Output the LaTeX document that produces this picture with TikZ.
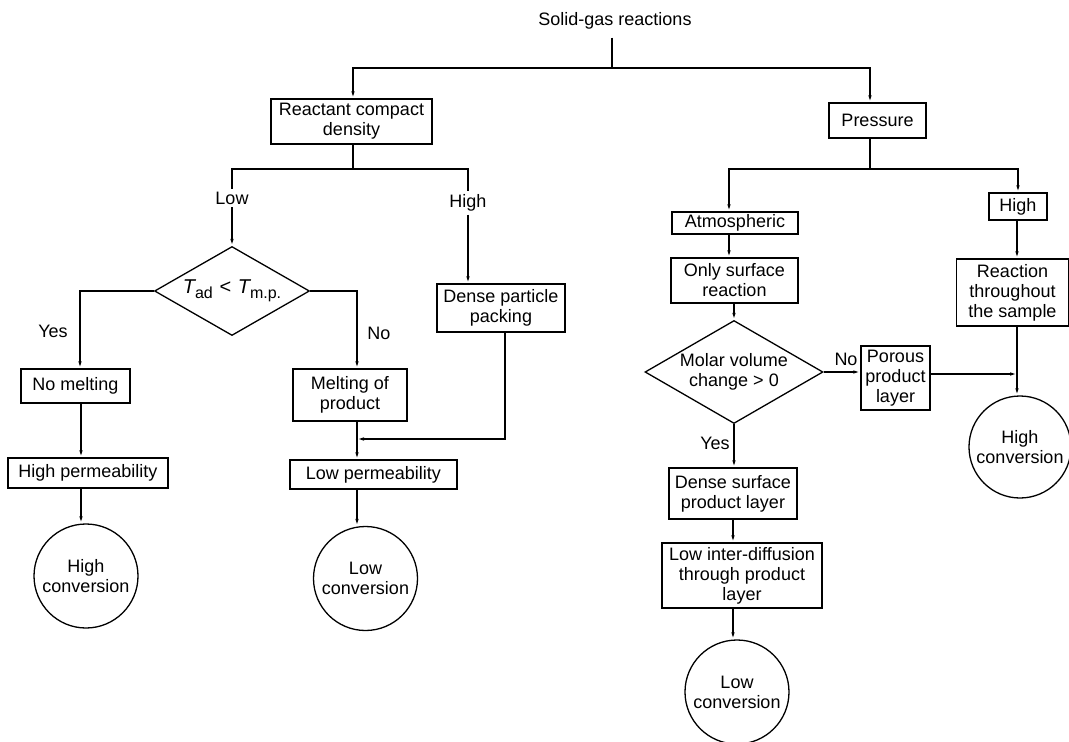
\documentclass[tikz,border=0pt]{standalone}
\usepackage{fontspec}
\setmainfont{Liberation Sans}
\usetikzlibrary{arrows.meta,shapes.geometric}
\newcommand{\sbs}[1]{\raisebox{-0.45ex}{\fontsize{16}{16}\selectfont #1}}
\begin{document}
\begin{tikzpicture}[x=1pt,y=-1pt,
  every node/.style={font=\fontsize{18}{20}\selectfont},
  box/.style={draw, line width=1.3pt, inner sep=0pt, align=center},
  dia/.style={draw, diamond, line width=1.3pt, inner sep=0pt},
  endc/.style={draw, circle, line width=1.3pt, inner sep=0pt, minimum size=104pt, align=center},
  lbl/.style={inner sep=3pt},
  conn/.style={line width=1.3pt},
  arr/.style={conn, -{Latex[length=7pt,width=3.5pt]}}]
\useasboundingbox (0,0) rectangle (1069,742);
% nodes
\node[inner sep=8pt] (title) at (615,21) {Solid-gas reactions};
\node[box, minimum width=161pt, minimum height=45pt] (rcd) at (351.5,121.5) {Reactant compact\\density};
\node[box, minimum width=97pt, minimum height=35pt] (pres) at (877.5,120.5) {Pressure};
\node[lbl] (lowl) at (232,198) {Low};
\node[lbl] (highl) at (468,203) {High};
\node[dia, minimum width=155pt, minimum height=89pt,
  label={center:{\fontsize{20}{20}\selectfont{\itshape T}\sbs{ad}\,\,<\,\,{\itshape T}\sbs{m.p.}}}] (d1) at (232,291) {};
\node[lbl] (yes1) at (53,331) {Yes};
\node[lbl] (no1) at (379,333) {No};
\node[box, minimum width=109pt, minimum height=34pt] (nomelt) at (75.5,386) {No melting};
\node[box, minimum width=160pt, minimum height=30pt] (hperm) at (88,473) {High permeability};
\node[endc] (hc1) at (86,576) {High\\conversion};
\node[box, minimum width=114pt, minimum height=52pt] (melt) at (350,395) {Melting of\\product};
\node[box, minimum width=167pt, minimum height=29pt] (lperm) at (373.5,474.5) {Low permeability};
\node[endc] (lc1) at (365.5,578.5) {Low\\conversion};
\node[box, minimum width=128pt, minimum height=48pt] (dpp) at (501,308) {Dense particle\\packing};
\node[box, minimum width=126pt, minimum height=22pt] (atm) at (735,223) {Atmospheric};
\node[box, minimum width=58pt, minimum height=27pt] (highp) at (1018,206.5) {High};
\node[box, minimum width=127pt, minimum height=45pt] (osr) at (734.5,280.5) {Only surface\\reaction};
\node[box, minimum width=112pt, minimum height=67pt] (rts) at (1012.5,292.5) {Reaction\\throughout\\the sample};
\node[dia, minimum width=178pt, minimum height=103pt,
  label={[align=center]center:{Molar volume\\change > 0}}] (d2) at (734,372) {};
\node[box, minimum width=69pt, minimum height=64pt] (por) at (895.5,378) {Porous\\product\\layer};
\node[endc, minimum size=102pt] (hc2) at (1020,447) {High\\conversion};
\node[lbl] (no2) at (846,359) {No};
\node[lbl] (yes2) at (715,443) {Yes};
\node[box, minimum width=128pt, minimum height=51pt] (dspl) at (733,493.5) {Dense surface\\product layer};
\node[box, minimum width=160pt, minimum height=65pt] (lid) at (742,575.5) {Low inter-diffusion\\through product\\layer};
\node[endc] (lc2) at (737,692) {Low\\conversion};
% junction coordinates
\coordinate (j0) at (612,68);
\coordinate (j1) at (353,169);
\coordinate (j2) at (870,169);
\coordinate (xa) at (81,0);
\coordinate (jm) at (357,439);
\coordinate (jh) at (1017,374);
% connectors
\draw[conn] (title.south -| j0) -- (j0);
\draw[arr] (j0) -| ([xshift=1.5pt]rcd.north);
\draw[arr] (j0) -| ([xshift=-7.5pt]pres.north);
\draw[conn] ([xshift=1.5pt]rcd.south) -- (j1);
\draw[conn] (lowl.north) |- (j1) -| (highl.north);
\draw[arr] (lowl.south) -- (d1.north);
\draw[arr] (highl.south) -- (highl.south |- dpp.north);
\draw[arr] (d1.west) -| ([xshift=4.5pt]nomelt.north);
\draw[arr] (d1.east) -| ([xshift=7pt]melt.north);
\draw[arr] (nomelt.south -| xa) -- (hperm.north -| xa);
\draw[arr] (hperm.south -| xa) -- (hc1.north -| xa);
\draw[arr] (melt.south -| jm) -- (lperm.north -| jm);
\draw[arr] ([xshift=4pt]dpp.south) |- (jm);
\draw[arr] (lperm.south -| jm) -- (lc1.north -| jm);
\draw[conn] ([xshift=-7.5pt]pres.south) -- (j2);
\draw[arr] (j2) -| ([xshift=-6pt]atm.north);
\draw[arr] (j2) -| (highp.north);
\draw[arr] ([xshift=-6pt]atm.south) -- ([xshift=-5.5pt]osr.north);
\draw[arr] (osr.south -| d2.north) -- (d2.north);
\draw[arr] (d2.east) -- (d2.east -| por.west);
\draw[arr] (por.east |- jh) -- (jh);
\draw[arr] (highp.south -| jh) -- (rts.north -| jh);
\draw[arr] (rts.south -| jh) -- (hc2.north -| jh);
\draw[arr] (d2.south) -- (d2.south |- dspl.north);
\draw[arr] (dspl.south) -- (dspl.south |- lid.north);
\draw[arr] (lid.south -| dspl.south) -- (lc2.north -| dspl.south);
\end{tikzpicture}
\end{document}
